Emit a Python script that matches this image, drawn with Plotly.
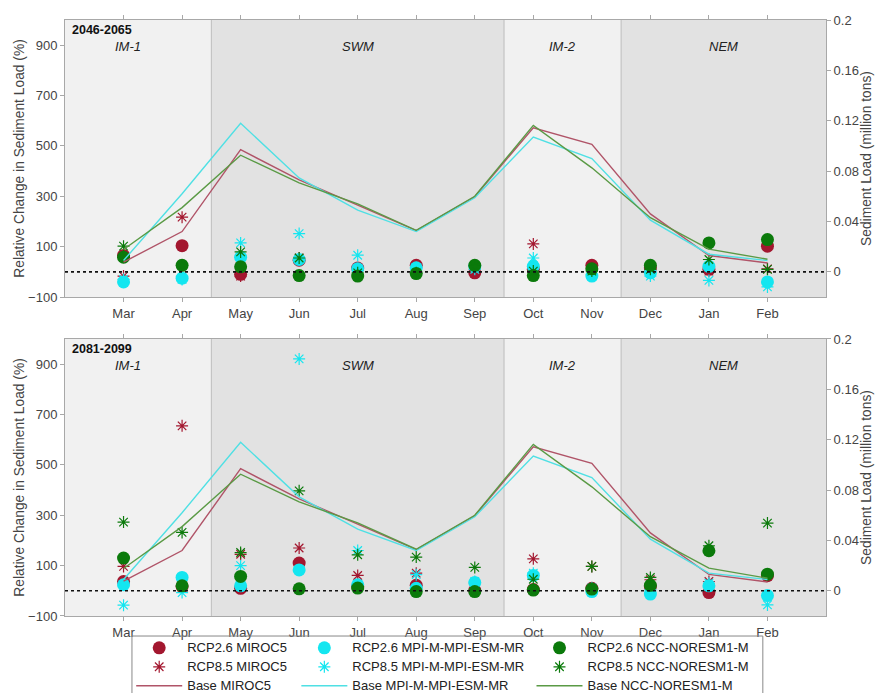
import plotly.graph_objects as go

months = ["Mar", "Apr", "May", "Jun", "Jul", "Aug", "Sep", "Oct", "Nov", "Dec", "Jan", "Feb"]
xi = list(range(12))

# Base sediment load (million tons)
base_miroc5 = [0.0077, 0.032, 0.097, 0.073, 0.053, 0.0328, 0.0596, 0.1144, 0.1012, 0.046, 0.013, 0.007]
base_mpi = [0.009, 0.062, 0.118, 0.0746, 0.049, 0.032, 0.0588, 0.107, 0.090, 0.041, 0.014, 0.009]
base_ncc = [0.0177, 0.051, 0.0926, 0.0706, 0.054, 0.033, 0.060, 0.1163, 0.0826, 0.043, 0.018, 0.010]

# 2046-2065 relative change (%)
p1_rcp26_miroc5 = [65, 104, -10, 46, 15, 26, -4, 10, 26, 15, 10, 102]
p1_rcp85_miroc5 = [-17, 217, -17, 55, 15, 26, 10, 111, 15, 3, 3, 12]
p1_rcp26_mpi = [-40, -25, 58, 49, 12, 16, 22, 22, -17, -4, 22, -40]
p1_rcp85_mpi = [-30, -30, 115, 152, 66, 16, 10, 55, -10, -17, -34, -60]
p1_rcp26_ncc = [58, 26, 20, -15, -17, -7, 26, -15, 12, 26, 115, 128]
p1_rcp85_ncc = [102, 26, 79, 55, -4, -4, 22, 3, 3, 10, 49, 10]

# 2081-2099 relative change (%)
p2_rcp26_miroc5 = [37, 17, 10, 110, 17, 22, 2, 5, 10, 17, -7, 60]
p2_rcp85_miroc5 = [97, 655, 145, 170, 61, 70, 30, 127, 97, 44, 37, 63]
p2_rcp26_mpi = [24, 53, 20, 83, 24, 10, 33, 61, -3, -13, 20, -19]
p2_rcp85_mpi = [-57, -7, 100, 921, 160, 64, 37, 70, 11, 4, 30, -56]
p2_rcp26_ncc = [130, 20, 57, 8, 11, -3, -3, 3, 7, 22, 159, 66]
p2_rcp85_ncc = [273, 232, 152, 397, 143, 134, 93, 46, 97, 53, 179, 269]

periods = ["2046-2065", "2081-2099"]
seasons = ["IM-1", "SWM", "IM-2", "NEM"]
season_bounds = [(-1, 1.5), (1.5, 6.5), (6.5, 8.5), (8.5, 12)]
season_label_x = [0.08, 4.0, 7.5, 10.25]
season_fill = ["#f1f1f1", "#e2e2e2", "#f1f1f1", "#e2e2e2"]
left_ticks = [-100, 100, 300, 500, 700, 900]
right_ticks = [0, 0.04, 0.08, 0.12, 0.16, 0.2]
right_tick_text = ["0", "0.04", "0.08", "0.12", "0.16", "0.2"]

c_miroc = "#a3172f"
c_mpi = "#14e6f0"
c_ncc = "#0b7a0b"
l_miroc = "#b05468"
l_mpi = "#4fe0e4"
l_ncc = "#5a9a45"

FONT = "Liberation Sans, Arial, sans-serif"


def leg_name(s):
    return f"<span style='font-size:13px'>{s}</span>"


fig = go.Figure()

panels = [
    (p1_rcp26_miroc5, p1_rcp85_miroc5, p1_rcp26_mpi, p1_rcp85_mpi, p1_rcp26_ncc, p1_rcp85_ncc),
    (p2_rcp26_miroc5, p2_rcp85_miroc5, p2_rcp26_mpi, p2_rcp85_mpi, p2_rcp26_ncc, p2_rcp85_ncc),
]

for pi, data in enumerate(panels):
    xa = "x" if pi == 0 else "x2"
    yl = "y" if pi == 0 else "y3"
    yr = "y2" if pi == 0 else "y4"
    show = pi == 0
    # base lines (right axis)
    for vals, col, name, lg in [
        (base_miroc5, l_miroc, "Base MIROC5", "legend"),
        (base_mpi, l_mpi, "Base MPI-M-MPI-ESM-MR", "legend2"),
        (base_ncc, l_ncc, "Base NCC-NORESM1-M", "legend3"),
    ]:
        fig.add_trace(go.Scatter(x=xi, y=vals, mode="lines", line=dict(color=col, width=1.4),
                                 name=leg_name(name), xaxis=xa, yaxis=yr, showlegend=show,
                                 legend=lg, legendrank=3))
    r26m, r85m, r26p, r85p, r26n, r85n = data
    for vals, col, name, sym, lg, rank in [
        (r26m, c_miroc, "RCP2.6 MIROC5", "circle", "legend", 1),
        (r85m, c_miroc, "RCP8.5 MIROC5", "asterisk-open", "legend", 2),
        (r26p, c_mpi, "RCP2.6 MPI-M-MPI-ESM-MR", "circle", "legend2", 1),
        (r85p, c_mpi, "RCP8.5 MPI-M-MPI-ESM-MR", "asterisk-open", "legend2", 2),
        (r26n, c_ncc, "RCP2.6 NCC-NORESM1-M", "circle", "legend3", 1),
        (r85n, c_ncc, "RCP8.5 NCC-NORESM1-M", "asterisk-open", "legend3", 2),
    ]:
        if sym == "circle":
            mk = dict(symbol="circle", size=13, color=col, line=dict(width=0))
        else:
            mk = dict(symbol="asterisk-open", size=10, color=col, line=dict(width=1.2, color=col))
        fig.add_trace(go.Scatter(x=xi, y=vals, mode="markers", marker=mk, name=leg_name(name),
                                 xaxis=xa, yaxis=yl, showlegend=show, legend=lg, legendrank=rank))

    # season backgrounds
    for (a, b), colr in zip(season_bounds, season_fill):
        fig.add_shape(type="rect", xref=xa, yref=f"{yl} domain", x0=a, x1=b, y0=0, y1=1,
                      fillcolor=colr, line=dict(width=0), layer="below")
    for b in [1.5, 6.5, 8.5]:
        fig.add_shape(type="line", xref=xa, yref=f"{yl} domain", x0=b, x1=b, y0=0, y1=1,
                      line=dict(color="#bdbdbd", width=1), layer="below")
    # zero dotted line
    fig.add_shape(type="line", xref=f"{xa} domain", yref=yl, x0=0, x1=1, y0=0, y1=0,
                  line=dict(color="#111111", width=1.6, dash="dot"), layer="above")
    # labels
    fig.add_annotation(text=f"<b>{periods[pi]}</b>", xref=f"{xa} domain", yref=f"{yl} domain",
                       x=0.006, y=0.995, xanchor="left", yanchor="top", showarrow=False,
                       font=dict(size=12.5, color="#111", family=FONT))
    for s, sx in zip(seasons, season_label_x):
        fig.add_annotation(text=f"<i>{s}</i>", xref=xa, yref=yl, x=sx, y=895,
                           showarrow=False, font=dict(size=13, color="#222", family=FONT))

xcommon = dict(range=[-1, 12], tickvals=xi, ticktext=months, showgrid=False, zeroline=False,
               showline=True, linecolor="#a8a8a8", linewidth=1, mirror="ticks",
               ticks="outside", ticklen=4, tickcolor="#a8a8a8", automargin=False,
               tickfont=dict(size=13, color="#444", family=FONT))
yleft = dict(range=[-100, 1000], tickvals=left_ticks, showgrid=False, zeroline=False,
             showline=True, linecolor="#a8a8a8", ticks="outside", ticklen=4, tickcolor="#a8a8a8",
             automargin=False,
             tickfont=dict(size=13, color="#444", family=FONT),
             title=dict(text="Relative Change in Sediment Load (%)", standoff=0,
                        font=dict(size=13.8, color="#444", family=FONT)))
yright = dict(range=[-0.02, 0.2], tickvals=right_ticks, ticktext=right_tick_text, side="right",
              showgrid=False, zeroline=False, showline=True, linecolor="#a8a8a8",
              ticks="outside", ticklen=4, tickcolor="#a8a8a8", automargin=False,
              tickfont=dict(size=13, color="#444", family=FONT),
              title=dict(text="Sediment Load (million tons)", standoff=2,
                         font=dict(size=13.8, color="#444", family=FONT)))

fig.update_layout(
    width=877, height=693,
    margin=dict(l=65, r=51, t=20, b=77, autoexpand=False),
    plot_bgcolor="white", paper_bgcolor="white",
    font=dict(family=FONT, color="#333"),
    xaxis=dict(domain=[0, 1], anchor="y", **xcommon),
    yaxis=dict(domain=[0.5352, 1], anchor="x", **yleft),
    yaxis2=dict(domain=[0.5352, 1], anchor="x", overlaying="y", **yright),
    xaxis2=dict(domain=[0, 1], anchor="y3", **xcommon),
    yaxis3=dict(domain=[0, 0.4648], anchor="x2", **yleft),
    yaxis4=dict(domain=[0, 0.4648], anchor="x2", overlaying="y3", **yright),
)

legcommon = dict(orientation="v", yanchor="top", xanchor="left", bgcolor="rgba(0,0,0,0)",
                 borderwidth=0, itemwidth=46, tracegroupgap=0,
                 font=dict(size=11, color="#222", family=FONT), traceorder="normal")
fig.update_layout(
    legend=dict(x=0.087, y=-0.029, **legcommon),
    legend2=dict(x=0.304, y=-0.029, **legcommon),
    legend3=dict(x=0.613, y=-0.029, **legcommon),
)
fig.add_shape(type="rect", xref="paper", yref="paper", x0=0.088, x1=0.917, y0=-0.15, y1=-0.0336,
              line=dict(color="#888", width=1), fillcolor="rgba(0,0,0,0)")

fig.write_html("out.html")
